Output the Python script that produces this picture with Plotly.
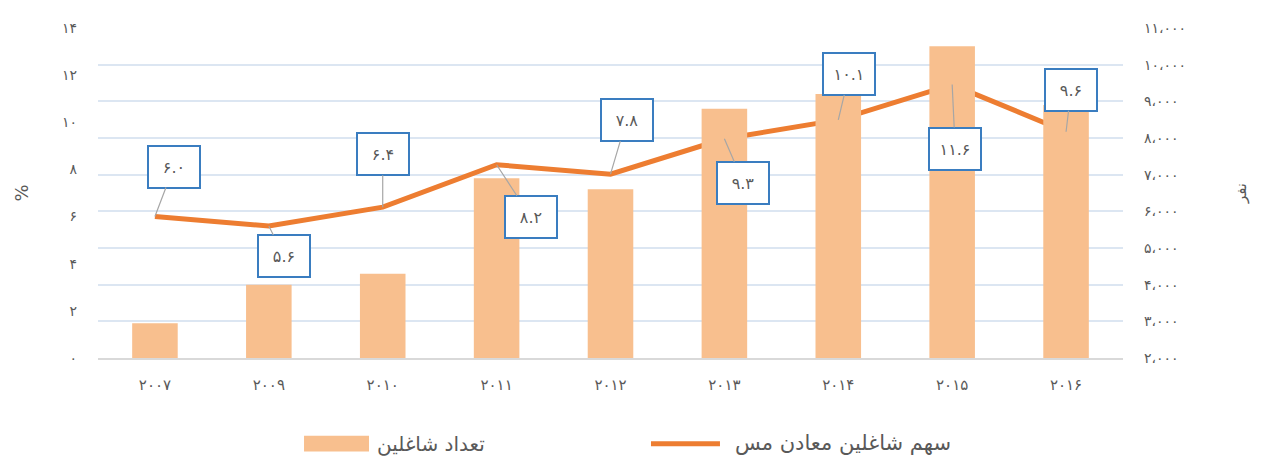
import plotly.graph_objects as go

years = ["2007", "2009", "2010", "2011", "2012", "2013", "2014", "2015", "2016"]
year_labels = ["۲۰۰۷", "۲۰۰۹", "۲۰۱۰", "۲۰۱۱", "۲۰۱۲", "۲۰۱۳", "۲۰۱۴", "۲۰۱۵", "۲۰۱۶"]
employees = [2950, 4000, 4300, 6900, 6600, 8800, 9200, 10500, 8900]
share_pct = [6.0, 5.6, 6.4, 8.2, 7.8, 9.3, 10.1, 11.6, 9.6]
share_labels = ["۶.۰", "۵.۶", "۶.۴", "۸.۲", "۷.۸", "۹.۳", "۱۰.۱", "۱۱.۶", "۹.۶"]
left_ticks = [0, 2, 4, 6, 8, 10, 12, 14]
left_tick_text = ["۰", "۲", "۴", "۶", "۸", "۱۰", "۱۲", "۱۴"]
right_ticks = [2000, 3000, 4000, 5000, 6000, 7000, 8000, 9000, 10000, 11000]
right_tick_text = ["۲،۰۰۰", "۳،۰۰۰", "۴،۰۰۰", "۵،۰۰۰", "۶،۰۰۰", "۷،۰۰۰",
                   "۸،۰۰۰", "۹،۰۰۰", "۱۰،۰۰۰", "۱۱،۰۰۰"]
bar_name = "تعداد شاغلین"
line_name = "سهم شاغلین معادن مس"

# label box offsets (pixels) relative to each point
label_dx = [19, 15, 0, 34, 16, 19, 11, 3, 5]
label_dy = [-50, 30, -53, 52, -54, 44, -46, 64, -42]

FONT = "DejaVu Sans"
GREY = "#595959"
BAR_COLOR = "#F8BF8E"
LINE_COLOR = "#ED7D31"

fig = go.Figure()
fig.add_trace(go.Bar(
    x=years, y=employees, name=bar_name, yaxis="y2",
    marker=dict(color=BAR_COLOR, line=dict(width=0)),
    width=0.4, showlegend=False,
))
fig.add_trace(go.Scatter(
    x=years, y=share_pct, name=line_name, yaxis="y",
    mode="lines", line=dict(color=LINE_COLOR, width=5), showlegend=False,
))

for i, (v, t, dx, dy) in enumerate(zip(share_pct, share_labels, label_dx, label_dy)):
    fig.add_annotation(
        x=i, y=v, xref="x", yref="y", text=t,
        showarrow=True, arrowhead=0, arrowwidth=1.2, arrowcolor="#A6A6A6",
        ax=dx, ay=dy, axref="pixel", ayref="pixel",
        width=44, height=34,
        bgcolor="white", bordercolor="#3A7DC0", borderwidth=2, borderpad=3,
        font=dict(family=FONT, size=16, color=GREY),
    )

# custom legend (paper coordinates, below the plot area)
fig.add_shape(type="rect", xref="paper", yref="paper",
              x0=0.201, x1=0.2644, y0=-0.2836, y1=-0.2358,
              fillcolor=BAR_COLOR, line=dict(width=0))
fig.add_annotation(xref="paper", yref="paper", x=0.2702, y=-0.2597,
                   xanchor="left", yanchor="middle", showarrow=False,
                   text=bar_name, font=dict(family=FONT, size=20, color=GREY))
fig.add_shape(type="line", xref="paper", yref="paper",
              x0=0.5395, x1=0.6068, y0=-0.2597, y1=-0.2597,
              line=dict(color=LINE_COLOR, width=5))
fig.add_annotation(xref="paper", yref="paper", x=0.6195, y=-0.2597,
                   xanchor="left", yanchor="middle", showarrow=False,
                   text=line_name, font=dict(family=FONT, size=21, color=GREY))

fig.update_layout(
    width=1266, height=465,
    margin=dict(l=90, r=151, t=15, b=115),
    plot_bgcolor="white", paper_bgcolor="white",
    font=dict(family=FONT, size=13, color=GREY),
    showlegend=False,
    xaxis=dict(
        type="category", categoryorder="array", categoryarray=years,
        range=[-0.5, len(years) - 0.5], autorange=False,
        tickvals=years, ticktext=year_labels,
        showgrid=False, showline=True, linecolor="#D9D9D9", linewidth=1.5,
        ticks="", tickfont=dict(size=15, color=GREY), ticklabelstandoff=12,
    ),
    yaxis=dict(
        range=[0, 14], tickvals=left_ticks, ticktext=left_tick_text,
        showgrid=False, zeroline=False, showline=False, ticks="",
        ticklabelstandoff=20,
        title=dict(text="%", font=dict(size=18, color=GREY), standoff=28),
        tickfont=dict(size=14, color=GREY),
    ),
    yaxis2=dict(
        range=[2000, 11000], tickvals=right_ticks, ticktext=right_tick_text,
        overlaying="y", side="right",
        showgrid=True, gridcolor="#DCE6F2", gridwidth=1.5,
        zeroline=False, showline=False, ticks="",
        ticklabelstandoff=20,
        title=dict(text="نفر", font=dict(size=15, color=GREY), standoff=50),
        tickfont=dict(size=14, color=GREY),
    ),
)

fig.write_html("out.html")
